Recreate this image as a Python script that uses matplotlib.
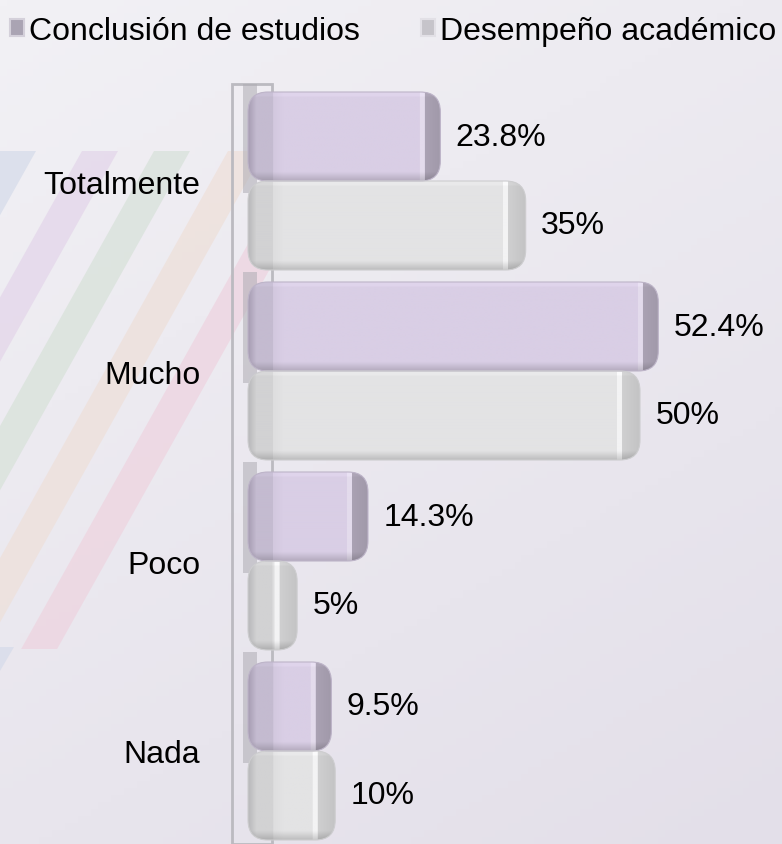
import numpy as np
import matplotlib
matplotlib.use("Agg")
import matplotlib.pyplot as plt
from matplotlib.patches import FancyBboxPatch, Polygon, Rectangle, Patch
from matplotlib.colors import to_rgb

# ---------------- data ----------------
categories = ["Totalmente", "Mucho", "Poco", "Nada"]
series_names = ["Conclusión de estudios", "Desempeño académico"]
conclusion = [23.8, 52.4, 14.3, 9.5]
desempeno = [35, 50, 5, 10]
labels_conclusion = ["23.8%", "52.4%", "14.3%", "9.5%"]
labels_desempeno = ["35%", "50%", "5%", "10%"]

plt.rcParams['font.family'] = ['Liberation Sans', 'DejaVu Sans']

W, H, DPI = 782, 845, 100
fig = plt.figure(figsize=(W / DPI, H / DPI), dpi=DPI)

# ---------------- background ----------------
bg = fig.add_axes([0, 0, 1, 1], zorder=-10)
bg.set_xlim(0, W)
bg.set_ylim(H, 0)
bg.axis('off')
gy, gx = np.mgrid[0:1:120j, 0:1:120j]
t = np.clip(0.35 * gx + 0.65 * gy, 0, 1)[..., None]
c_top = np.array(to_rgb('#f2f1f5'))
c_bot = np.array(to_rgb('#e3dfe9'))
bg.imshow(c_top * (1 - t) + c_bot * t, extent=[0, W, H, 0], aspect='auto', zorder=0)

stripe_cols = ['#d6dcea', '#e4d6ea', '#d8e2da', '#eee0da', '#eed4e0']
stripe_x = [0, 82, 154, 228, 300]
slope = 0.56
for sx, sc in zip(stripe_x, stripe_cols):
    y0, y1 = 152, 650
    sw = 36
    pts = [(sx, y0), (sx + sw, y0), (sx + sw - slope * (y1 - y0), y1), (sx - slope * (y1 - y0), y1)]
    bg.add_patch(Polygon(pts, closed=True, facecolor=sc, edgecolor='none', alpha=0.75, zorder=1))
bg.add_patch(Polygon([(0, 648), (14, 648), (0, 672)], closed=True, facecolor='#d6dcea',
                     edgecolor='none', alpha=0.75, zorder=1))

# ---------------- main axes ----------------
PX_X = 7.62          # pixels per percent
PX_Y = 190.0         # pixels per category
AX_L, AX_T = 231, 85
ax = fig.add_axes([AX_L / W, 0, (W - AX_L) / W, (H - AX_T) / H])
ax.set_facecolor('none')
for s in ax.spines.values():
    s.set_visible(False)

xlim = (-(259 - AX_L) / PX_X, (W - 259) / PX_X)
ylim = (3 + (H - 752) / PX_Y, -(182 - AX_T) / PX_Y)

ypos = np.arange(len(categories))
h = 89 / PX_Y
bars_c = ax.barh(ypos - h / 2, conclusion, height=h, alpha=0)
bars_d = ax.barh(ypos + h / 2, desempeno, height=h, alpha=0)

# wall
wall_r = (272 - 259) / PX_X
ax.add_patch(Rectangle((xlim[0] + 1 / PX_X, ylim[1]), wall_r - xlim[0] - 1 / PX_X, ylim[0] - ylim[1],
                       facecolor='none', edgecolor='#bbbac0', lw=2.0, zorder=1, clip_on=False))
for i in ypos:
    ax.add_patch(Rectangle((-16 / PX_X, i - h - 10 / PX_Y), 14 / PX_X, h + 22 / PX_Y,
                           facecolor='#aeacb3', edgecolor='none', alpha=0.55, zorder=1.5))

# rounded gradient bars
cap = 11 / PX_X
rad_x = 20 / PX_X
asp = (1 / PX_Y) / (1 / PX_X)


def profile(npx, edge_c, left_c, main_c, hl_c, cap_c, cap_w):
    cols = np.zeros((npx, 3))
    E, L, M, HL, C = (np.array(to_rgb(c)) for c in (edge_c, left_c, main_c, hl_c, cap_c))
    left_w = min(25, npx // 2)
    for k in range(npx):
        if k < 8:
            f = k / 8
            cols[k] = E * (1 - f) + L * f
        elif k < left_w:
            cols[k] = L
        elif k < npx - cap_w - 5:
            f = min((k - left_w) / 10, 1)
            cols[k] = L * (1 - f) * 0.3 + M * (1 - 0.3 * (1 - f))
        elif k < npx - cap_w:
            cols[k] = HL
        else:
            f = (k - (npx - cap_w)) / cap_w
            cols[k] = C * (1.03 - 0.06 * f)
    return np.clip(cols, 0, 1)


def draw_bars(rects, edge_c, left_c, main_c, hl_c, cap_c, cap_w, line_c):
    for r in rects:
        x0 = r.get_x() - cap
        w = r.get_width() + cap
        y0 = r.get_y()
        hh = r.get_height()
        patch = FancyBboxPatch((x0, y0), w, hh,
                               boxstyle=f"round,pad=0,rounding_size={rad_x}",
                               mutation_aspect=asp, facecolor=main_c,
                               edgecolor='none', zorder=3)
        ax.add_patch(patch)
        npx = max(int(round(w * PX_X)), 20)
        prof = profile(npx, edge_c, left_c, main_c, hl_c, cap_c, cap_w)
        nrow = 60
        v = np.ones(nrow)
        v[:3] = 1.03
        v[-6:] = np.linspace(0.98, 0.84, 6)
        img = np.clip(prof[None, :, :] * v[:, None, None], 0, 1)
        im = ax.imshow(img, extent=[x0, x0 + w, y0 + hh, y0], origin='upper',
                       aspect='auto', zorder=3.5, interpolation='bilinear')
        im.set_clip_path(patch)
        ax.add_patch(FancyBboxPatch((x0, y0), w, hh,
                                    boxstyle=f"round,pad=0,rounding_size={rad_x}",
                                    mutation_aspect=asp, facecolor='none',
                                    edgecolor=line_c, lw=0.8, zorder=4))


draw_bars(bars_c, '#a79db3', '#c4bbd0', '#d9cee5', '#e3dbec', '#a59dae', 16, '#bdb4c8')
draw_bars(bars_d, '#b8b8ba', '#d2d2d3', '#e3e3e4', '#f3f3f4', '#c9c9ca', 18, '#cdcdcf')

ax.bar_label(bars_c, labels=labels_conclusion, padding=11, fontsize=23, color='black')
ax.bar_label(bars_d, labels=labels_desempeno, padding=11, fontsize=23, color='black')

ax.set_yticks(ypos, labels=categories, fontsize=23)
ax.tick_params(axis='y', length=0, pad=22)
ax.set_xticks([])
ax.set_xlim(*xlim)
ax.set_ylim(*ylim)

# legend
handles = [Patch(facecolor='#aaa4b3', edgecolor='#d4d0da', lw=1.5),
           Patch(facecolor='#c6c4ca', edgecolor='#e2e0e6', lw=1.5)]
fig.legend(handles, series_names, loc='upper left', bbox_to_anchor=(10 / W, 1 - 17 / H),
           ncol=2, frameon=False, fontsize=23, handlelength=0.45, handleheight=0.45,
           handletextpad=0.15, columnspacing=1.9, borderpad=0, borderaxespad=0)

fig.savefig('out.png', dpi=DPI)
